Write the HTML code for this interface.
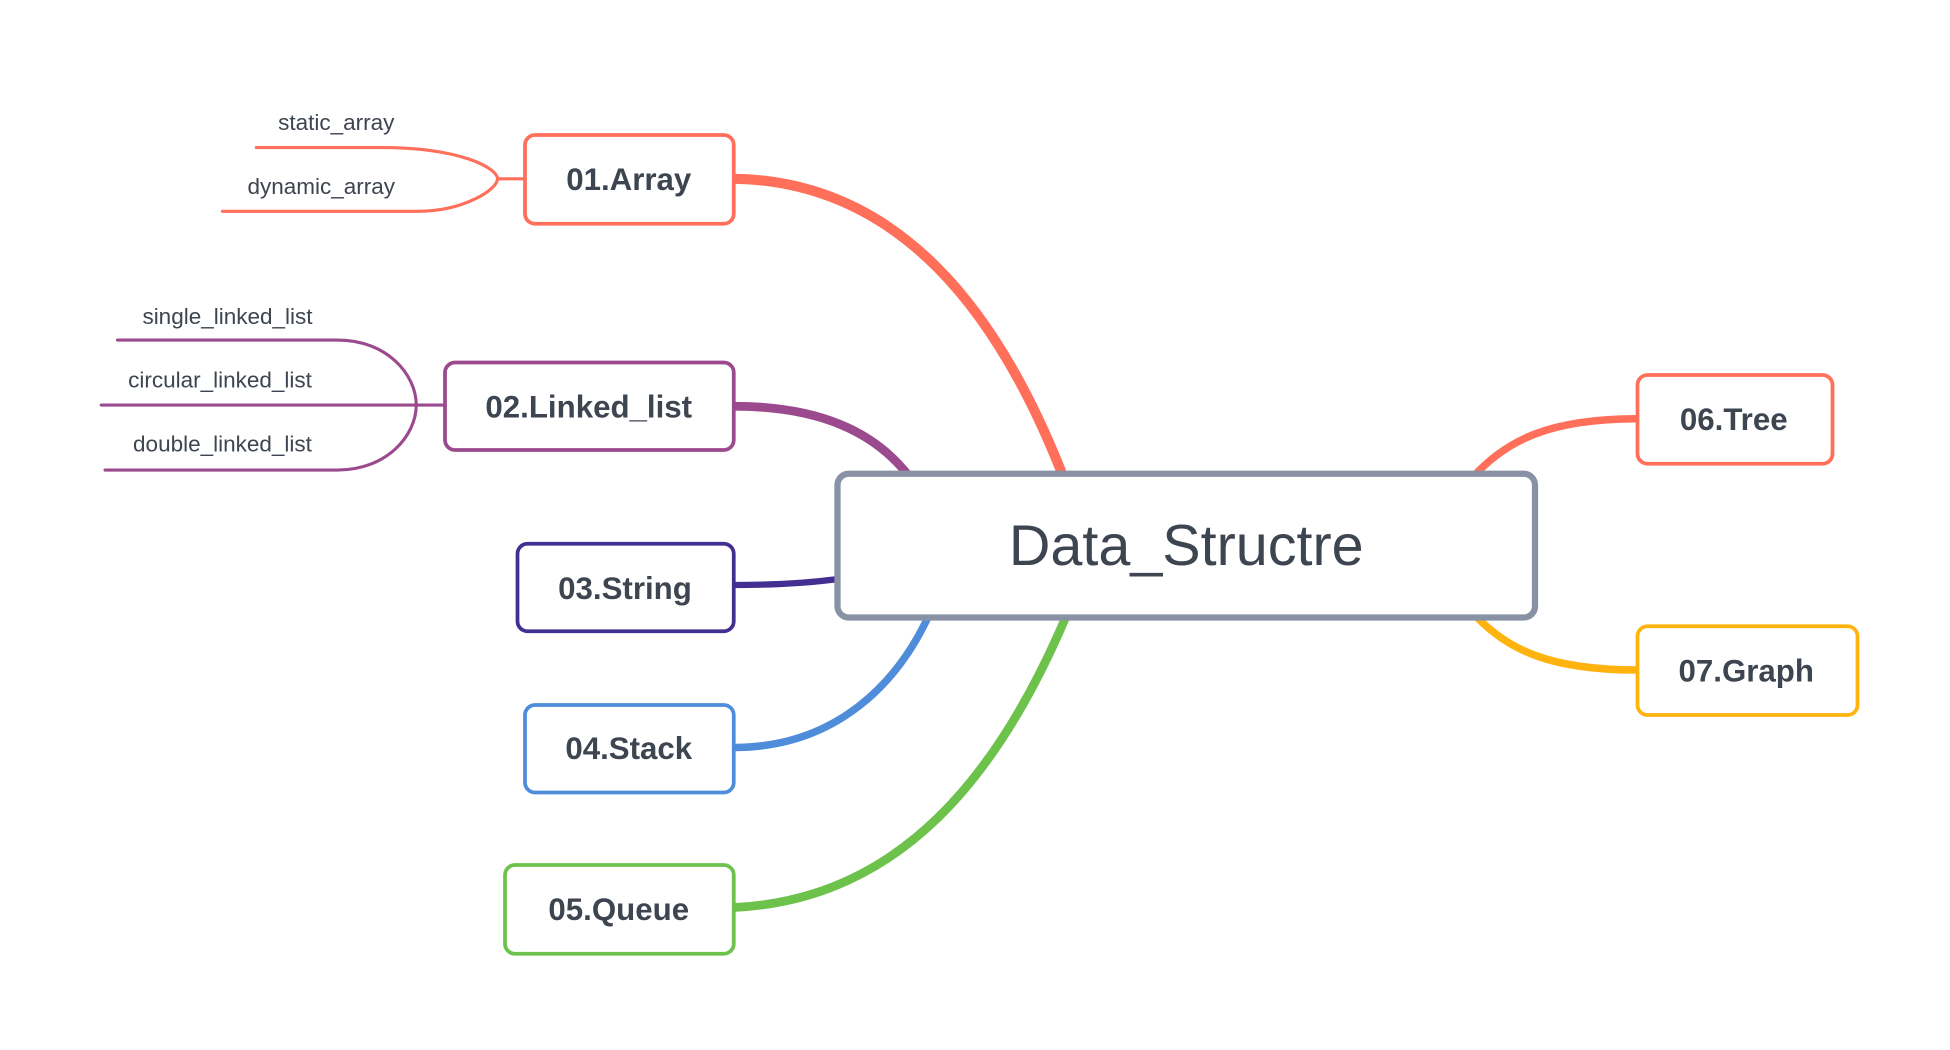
<!DOCTYPE html>
<html><head><meta charset="utf-8"><style>
html,body{margin:0;padding:0;background:#fff;width:1950px;height:1050px;overflow:hidden}
svg{display:block}
text{font-family:"Liberation Sans",sans-serif;fill:#3d4550}
</style></head><body>
<svg width="1950" height="1050" viewBox="0 0 1560 840" xmlns="http://www.w3.org/2000/svg">
<g fill="none" stroke-linecap="round">
<path d="M587,143 C720,145 800,250 852,385" stroke="#FF6F5A" stroke-width="8"/>
<path d="M587,325 C655,325 700,345 728,382" stroke="#9B4A8E" stroke-width="7"/>
<path d="M587,468 C625,468 650,466 672,463" stroke="#432E92" stroke-width="5"/>
<path d="M587,598 C670,598 720,545 745,488" stroke="#4F8DDB" stroke-width="6"/>
<path d="M587,726 C720,720 800,620 855,488" stroke="#6CC24A" stroke-width="7"/>
<path d="M1310,335 C1240,335 1205,352 1178,382" stroke="#FF6F5A" stroke-width="6"/>
<path d="M1310,536 C1240,536 1205,520 1178,490" stroke="#FFB30F" stroke-width="6"/>
<path d="M205,118 H305 C370,118 398,135 398,143 M178,169 H335 C370,169 398,152 398,143 M398,143 H420" stroke="#FF6F5A" stroke-width="2.5"/>
<path d="M94,272 H270 C310,272 333,300 333,324 M81,324 H356 M84,376 H270 C310,376 333,348 333,324" stroke="#9B4A8E" stroke-width="2.5"/>
</g>
<g stroke-width="3" fill="#fff">
<rect x="420" y="108" width="167" height="71" rx="8" stroke="#FF6F5A"/>
<rect x="356" y="290" width="231" height="70" rx="8" stroke="#9B4A8E"/>
<rect x="414" y="435" width="173" height="70" rx="8" stroke="#432E92"/>
<rect x="420" y="564" width="167" height="70" rx="8" stroke="#4F8DDB"/>
<rect x="404" y="692" width="183" height="71" rx="8" stroke="#6CC24A"/>
<rect x="1310" y="300" width="156" height="71" rx="8" stroke="#FF6F5A"/>
<rect x="1310" y="501" width="176" height="71" rx="8" stroke="#FFB30F"/>
<rect x="670" y="379" width="558" height="115" rx="9" stroke="#8892A4" stroke-width="5"/>
</g>
<g font-size="25" font-weight="bold" text-anchor="middle">
<text x="503" y="152">01.Array</text>
<text x="471" y="334">02.Linked_list</text>
<text x="500" y="479">03.String</text>
<text x="503" y="607">04.Stack</text>
<text x="495" y="736">05.Queue</text>
<text x="1387" y="344">06.Tree</text>
<text x="1397" y="545">07.Graph</text>
</g>
<text x="949" y="452" font-size="46" text-anchor="middle">Data_Structre</text>
<g font-size="18" text-anchor="middle">
<text x="269" y="104">static_array</text>
<text x="257" y="155">dynamic_array</text>
<text x="182" y="259">single_linked_list</text>
<text x="176" y="310">circular_linked_list</text>
<text x="178" y="361">double_linked_list</text>
</g>
</svg>
</body></html>
